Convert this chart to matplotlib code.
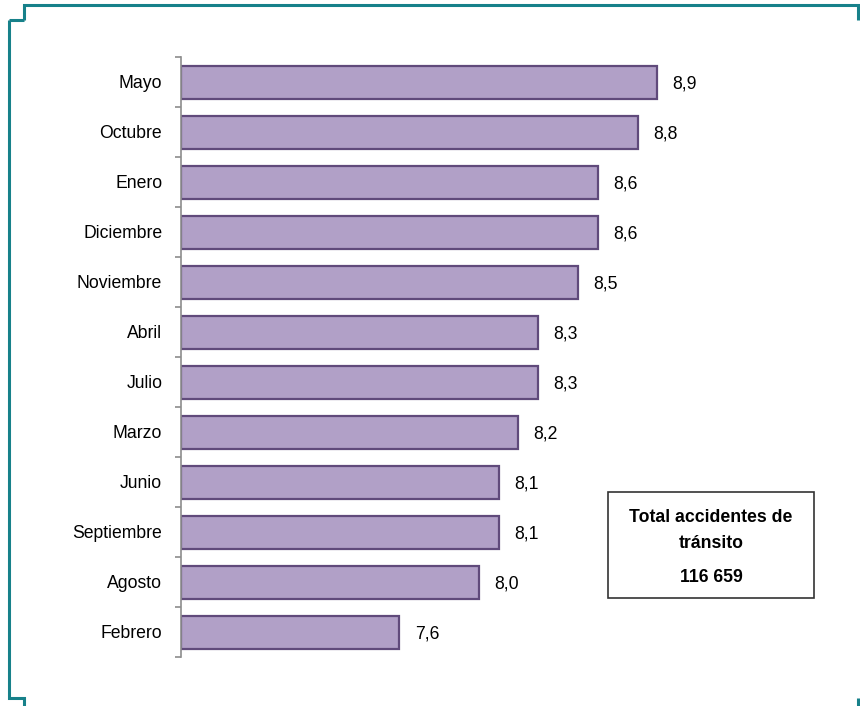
import matplotlib
matplotlib.use('Agg')
import matplotlib.pyplot as plt
from matplotlib.lines import Line2D
import matplotlib.patches as patches

# ── Data ──────────────────────────────────────────────────────────────
MONTHS = ['Mayo', 'Octubre', 'Enero', 'Diciembre', 'Noviembre', 'Abril',
          'Julio', 'Marzo', 'Junio', 'Septiembre', 'Agosto', 'Febrero']
VALUES = [8.9, 8.8, 8.6, 8.6, 8.5, 8.3, 8.3, 8.2, 8.1, 8.1, 8.0, 7.6]
BOX_LINES = ['Total accidentes de', 'tránsito', '116 659']

# ── Style ─────────────────────────────────────────────────────────────
BAR_FILL = '#B1A0C7'
BAR_EDGE = '#604A7B'
TEAL = '#17818A'
AXIS_GRAY = '#8C8C8C'
FS = 12.7
plt.rcParams['font.family'] = ['Liberation Sans', 'DejaVu Sans']

W, H = 860, 706
X0, X1 = 6.5, 6.5 + (840 - 181) / 198.5

fig = plt.figure(figsize=(W / 100, H / 100), dpi=100)
fig.patch.set_facecolor('white')
ax = fig.add_axes([181 / W, 1 - 657 / H, (840 - 181) / W, 600 / H])

ypos = list(range(len(MONTHS)))
ax.barh(ypos, [v - X0 for v in VALUES], left=X0, height=0.66,
        color=BAR_FILL, edgecolor=BAR_EDGE, linewidth=1.6)

for y, v in zip(ypos, VALUES):
    ax.annotate(f'{v:.1f}'.replace('.', ','), (v, y), xytext=(11, -1.5),
                textcoords='offset points', va='center', ha='left',
                fontsize=FS)

ax.set_xlim(X0, X1)
ax.set_ylim(len(MONTHS) - 0.5, -0.5)
ax.set_yticks(ypos)
ax.set_yticklabels(MONTHS, fontsize=FS)
ax.set_yticks([i - 0.5 for i in range(len(MONTHS) + 1)], minor=True)
ax.tick_params(axis='y', which='major', length=0, pad=13.5)
ax.tick_params(axis='y', which='minor', length=4.5, width=1.2,
               color=AXIS_GRAY)
ax.set_xticks([])
for s in ['top', 'right', 'bottom']:
    ax.spines[s].set_visible(False)
ax.spines['left'].set_color(AXIS_GRAY)
ax.spines['left'].set_linewidth(1.2)


# ── Frame (pixel coords → figure fraction) ────────────────────────────
def fline(xs, ys):
    fig.add_artist(Line2D([x / W for x in xs], [1 - y / H for y in ys],
                          color=TEAL, linewidth=2.2,
                          solid_joinstyle='miter', solid_capstyle='butt'))

fline([24, 24, 858, 858], [20, 4.5, 4.5, 20])
fline([8.5, 24], [20, 20])
fline([8.5, 8.5, 24, 24], [20, 697.5, 697.5, 706])
fline([857.5, 857.5], [697.5, 706])

# ── Text box ──────────────────────────────────────────────────────────
fig.add_artist(patches.Rectangle((608 / W, 1 - 598 / H), 206 / W, 106 / H,
                                 transform=fig.transFigure, facecolor='white',
                                 edgecolor='#333333', linewidth=1.2))
for line, yb in zip(BOX_LINES, [521.5, 548, 582]):
    fig.text(711 / W, 1 - yb / H, line, ha='center', va='baseline',
             fontsize=FS, fontweight='bold')

fig.savefig('out.png', dpi=100, facecolor='white')
